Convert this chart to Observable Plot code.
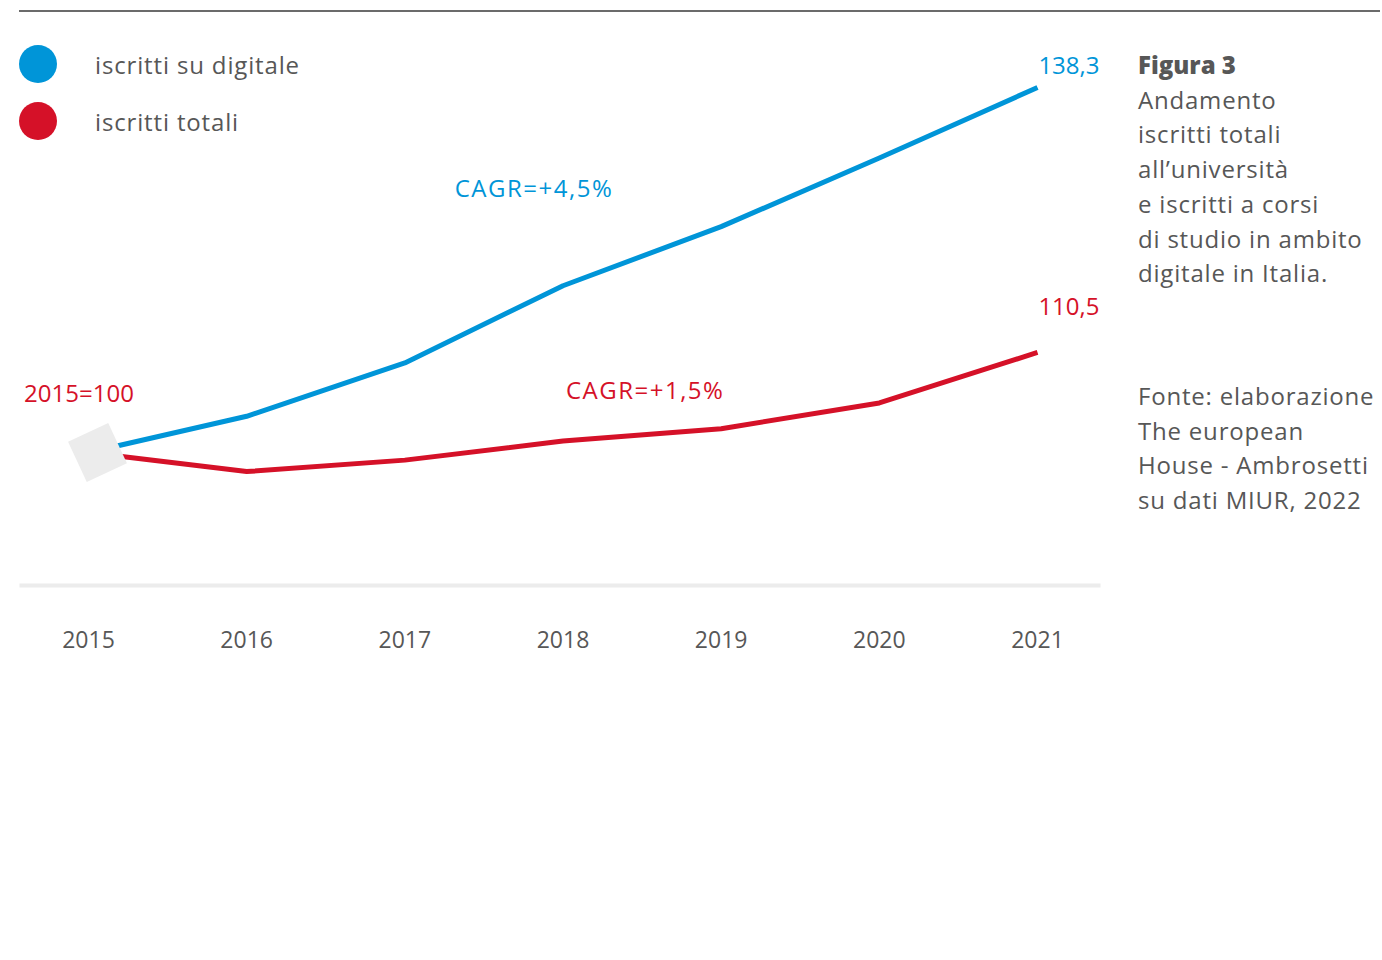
<!DOCTYPE html>
<html>
<head>
<meta charset="utf-8">
<script src="https://cdn.jsdelivr.net/npm/d3@7"></script>
<script src="https://cdn.jsdelivr.net/npm/@observablehq/plot@0.6"></script>
<style>
  body { margin: 0; background: #fff; }
  #wrap { position: relative; width: 1382px; height: 960px; font-family: "Open Sans", sans-serif; color: #575757; }
  #chart { position: absolute; left: 0; top: 0; }
  .rule { position: absolute; left: 19px; top: 10px; width: 1361px; height: 2px; background: #6b6b6b; }
  .leg { position: absolute; left: 19px; display: flex; align-items: center; font-size: 24px; letter-spacing: 0.85px; }
  .leg .sw { width: 38px; height: 38px; border-radius: 50%; margin-right: 38px; }
  .side { position: absolute; left: 1138px; font-size: 24px; line-height: 34.7px; letter-spacing: 0.8px; }
  .side b { font-weight: 800; letter-spacing: 0; }
</style>
</head>
<body>
<div id="wrap">
  <div id="chart"></div>
  <div class="rule"></div>
  <div id="legend"></div>
  <div class="side" style="top:48px"><b>Figura 3</b><br>Andamento<br>iscritti totali<br>all’università<br>e iscritti a corsi<br>di studio in ambito<br>digitale in Italia.</div>
  <div class="side" style="top:379px">Fonte: elaborazione<br>The european<br>House - Ambrosetti<br>su dati MIUR, 2022</div>
</div>
<script>
const years = [2015, 2016, 2017, 2018, 2019, 2020, 2021];
const digitale = [100, 103.8, 109.4, 117.5, 123.7, 130.9, 138.3];
const totali = [100, 98.0, 99.2, 101.2, 102.5, 105.2, 110.5];
const seriesNames = ["iscritti su digitale", "iscritti totali"];
const seriesColors = ["#0095d8", "#d51128"];
const valueLabels = ["138,3", "110,5"];
const cagrLabels = ["CAGR=+4,5%", "CAGR=+1,5%"];
const baseLabel = "2015=100";

const rows = [];
years.forEach((y, i) => {
  rows.push({year: y, value: digitale[i], series: seriesNames[0]});
  rows.push({year: y, value: totali[i], series: seriesNames[1]});
});

// legend
const leg = document.getElementById("legend");
seriesNames.forEach((n, i) => {
  const d = document.createElement("div");
  d.className = "leg";
  d.style.top = (45 + i * 57) + "px";
  d.innerHTML = `<span class="sw" style="background:${seriesColors[i]}"></span><span>${n}</span>`;
  leg.appendChild(d);
});

const last = years.length - 1;
const fontFamily = '"Open Sans", sans-serif';

const chart = Plot.plot({
  width: 1382,
  height: 700,
  marginLeft: 19,
  marginRight: 282,
  marginTop: 0,
  marginBottom: 115,
  style: {fontFamily, background: "transparent", color: "#575757", overflow: "visible"},
  x: {type: "linear", domain: [2015, 2021], range: [88, 1037]},
  y: {domain: [100, 138.3], range: [452, 87], axis: null},
  color: {domain: seriesNames, range: seriesColors},
  marks: [
    Plot.frame({anchor: "bottom", stroke: "#ececec", strokeWidth: 4, strokeLinecap: "butt"}),
    Plot.axisX({ticks: years, tickSize: 0, tickPadding: 46, label: null, tickFormat: d => String(d), fontSize: 23, fill: "#575757"}),
    Plot.line(rows, {x: "year", y: "value", z: "series", stroke: "series", strokeWidth: 5, strokeLinejoin: "round", strokeLinecap: "butt"}),
    Plot.dot([{year: years[0], value: digitale[0]}], {x: "year", y: "value", symbol: "square", r: 25, fill: "#ececec", rotate: -25, dx: 9}),
    Plot.text([{year: years[last], value: digitale[last]}], {x: "year", y: "value", text: () => valueLabels[0], fill: seriesColors[0], textAnchor: "end", dx: 62, dy: -21, fontSize: 24}),
    Plot.text([{year: years[last], value: totali[last]}], {x: "year", y: "value", text: () => valueLabels[1], fill: seriesColors[1], textAnchor: "end", dx: 62, dy: -45, fontSize: 24}),
    Plot.text([{year: years[0], value: totali[0]}], {x: "year", y: "value", text: () => baseLabel, fill: seriesColors[1], dx: -9.5, dy: -58, fontSize: 24}),
    Plot.text([{year: years[3], value: digitale[3]}], {x: "year", y: "value", text: () => cagrLabels[0], fill: seriesColors[0], dx: -29, dy: -96, fontSize: 24}),
    Plot.text([{year: years[4], value: totali[4]}], {x: "year", y: "value", text: () => cagrLabels[1], fill: seriesColors[1], dx: -76, dy: -37, fontSize: 24})
  ]
});
chart.querySelectorAll("text").forEach(t => {
  if (t.textContent.startsWith("CAGR")) t.style.letterSpacing = "1.5px";
});
document.getElementById("chart").appendChild(chart);
</script>
</body>
</html>
